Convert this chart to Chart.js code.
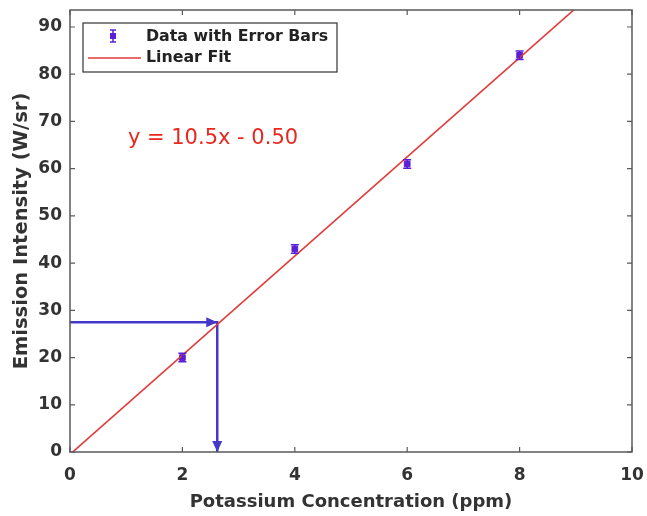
<!DOCTYPE html>
<html lang="en">
  <head>
    <meta charset="UTF-8" />
    <title>Emission Intensity vs Potassium Concentration</title>
    <script src="https://cdn.jsdelivr.net/npm/chart.js"></script>
    <style>
      html, body { margin: 0; padding: 0; background: #fff; }
      #wrap { width: 647px; height: 516px; }
    </style>
  </head>
  <body>
    <div id="wrap"><canvas id="chart" width="647" height="516"></canvas></div>
    <script>
      // data
      const concX = [2, 4, 6, 8];
      const intensityY = [20, 43, 61, 84];
      const errY = [0.9, 0.9, 0.9, 0.9];
      const fitX = [0, 10];
      const fitY = [-0.5, 104.5];
      const arrowX = [0, 2.62, 2.62];
      const arrowY = [27.5, 27.5, 0];
      const xTicks = [0, 2, 4, 6, 8, 10];
      const yTicks = [0, 10, 20, 30, 40, 50, 60, 70, 80, 90];
      const equationText = 'y = 10.5x - 0.50';

      const purple = '#5a1fd6';
      const arrowBlue = '#4338c8';
      const fitRed = '#e23a3a';
      const axisGray = '#5a5a5a';
      const textDark = '#333';
      const boldFont = '"DejaVu Sans", "Liberation Sans", sans-serif';

      const pts = (xs, ys) => xs.map((x, i) => ({ x: x, y: ys[i] }));

      // box + inward ticks, MATLAB style
      const framePlugin = {
        id: 'frame',
        afterDraw(chart) {
          const { ctx, chartArea: a, scales: { x, y } } = chart;
          ctx.save();
          ctx.strokeStyle = axisGray;
          ctx.lineWidth = 1.5;
          ctx.strokeRect(a.left, a.top, a.right - a.left, a.bottom - a.top);
          ctx.lineWidth = 1.2;
          ctx.beginPath();
          xTicks.forEach(v => {
            const px = x.getPixelForValue(v);
            ctx.moveTo(px, a.bottom); ctx.lineTo(px, a.bottom - 5);
            ctx.moveTo(px, a.top); ctx.lineTo(px, a.top + 5);
          });
          yTicks.forEach(v => {
            const py = y.getPixelForValue(v);
            ctx.moveTo(a.left, py); ctx.lineTo(a.left + 5, py);
            ctx.moveTo(a.right, py); ctx.lineTo(a.right - 5, py);
          });
          ctx.stroke();
          ctx.restore();
        }
      };

      // error bars, arrowheads, equation and legend
      const overlayPlugin = {
        id: 'overlay',
        afterDatasetsDraw(chart) {
          const { ctx, chartArea: a, scales: { x, y } } = chart;
          ctx.save();

          // error bars
          ctx.strokeStyle = purple;
          ctx.lineWidth = 1.5;
          concX.forEach((cx, i) => {
            const px = x.getPixelForValue(cx);
            const lo = y.getPixelForValue(intensityY[i] - errY[i]);
            const hi = y.getPixelForValue(intensityY[i] + errY[i]);
            ctx.beginPath();
            ctx.moveTo(px, lo); ctx.lineTo(px, hi);
            ctx.moveTo(px - 4, lo); ctx.lineTo(px + 4, lo);
            ctx.moveTo(px - 4, hi); ctx.lineTo(px + 4, hi);
            ctx.stroke();
          });

          // arrowheads
          ctx.fillStyle = arrowBlue;
          const hx = x.getPixelForValue(arrowX[1]);
          const hy = y.getPixelForValue(arrowY[1]);
          ctx.beginPath();
          ctx.moveTo(hx, hy); ctx.lineTo(hx - 11, hy - 5); ctx.lineTo(hx - 11, hy + 5);
          ctx.closePath(); ctx.fill();
          const vx = x.getPixelForValue(arrowX[2]);
          const vy = y.getPixelForValue(arrowY[2]);
          ctx.beginPath();
          ctx.moveTo(vx, vy); ctx.lineTo(vx - 5, vy - 11); ctx.lineTo(vx + 5, vy - 11);
          ctx.closePath(); ctx.fill();

          // equation
          ctx.fillStyle = '#e8281e';
          ctx.font = '21px "DejaVu Sans", "Liberation Sans", sans-serif';
          ctx.textBaseline = 'middle';
          ctx.textAlign = 'left';
          ctx.fillText(equationText, x.getPixelForValue(1.03), y.getPixelForValue(66.4));

          // legend
          const lx = a.left + 13, ly = a.top + 13, lw = 254, lh = 49;
          ctx.fillStyle = '#fff';
          ctx.fillRect(lx, ly, lw, lh);
          ctx.strokeStyle = '#333';
          ctx.lineWidth = 1.2;
          ctx.strokeRect(lx, ly, lw, lh);
          const mx = lx + 30, r1 = ly + 13, r2 = ly + 35;
          ctx.strokeStyle = purple;
          ctx.lineWidth = 1.5;
          ctx.beginPath();
          ctx.moveTo(mx, r1 - 6); ctx.lineTo(mx, r1 + 6);
          ctx.moveTo(mx - 3, r1 - 6); ctx.lineTo(mx + 3, r1 - 6);
          ctx.moveTo(mx - 3, r1 + 6); ctx.lineTo(mx + 3, r1 + 6);
          ctx.stroke();
          ctx.fillStyle = purple;
          ctx.fillRect(mx - 3, r1 - 3, 6, 6);
          ctx.strokeStyle = fitRed;
          ctx.beginPath();
          ctx.moveTo(lx + 5, r2); ctx.lineTo(lx + 58, r2);
          ctx.stroke();
          ctx.fillStyle = '#222';
          ctx.font = 'bold 15.8px ' + boldFont;
          ctx.fillText('Data with Error Bars', lx + 63, r1 + 1);
          ctx.fillText('Linear Fit', lx + 63, r2);

          ctx.restore();
        }
      };

      new Chart(document.getElementById('chart'), {
        type: 'scatter',
        data: {
          datasets: [
            {
              type: 'line',
              label: 'Linear Fit',
              data: pts(fitX, fitY),
              borderColor: fitRed,
              borderWidth: 1.6,
              pointRadius: 0,
              fill: false
            },
            {
              type: 'line',
              label: 'Arrow',
              data: pts(arrowX, arrowY),
              borderColor: arrowBlue,
              borderWidth: 2.5,
              pointRadius: 0,
              fill: false,
              tension: 0
            },
            {
              label: 'Data with Error Bars',
              data: pts(concX, intensityY),
              backgroundColor: purple,
              borderColor: purple,
              pointStyle: 'rect',
              pointRadius: 4,
              pointHoverRadius: 4
            }
          ]
        },
        options: {
          responsive: false,
          animation: false,
          layout: { padding: { top: 10, right: 15, left: 0, bottom: 0 } },
          plugins: { legend: { display: false }, tooltip: { enabled: false } },
          scales: {
            x: {
              type: 'linear',
              min: 0,
              max: 10,
              afterBuildTicks: s => { s.ticks = xTicks.map(v => ({ value: v })); },
              afterFit: s => { s.height = 64; s.paddingLeft = 0; s.paddingRight = 0; },
              grid: { display: false },
              border: { display: false },
              ticks: {
                color: textDark,
                padding: 5,
                font: { family: boldFont, size: 17, weight: 'bold' }
              },
              title: {
                display: true,
                text: 'Potassium Concentration (ppm)',
                color: textDark,
                padding: { top: 0, bottom: 3 },
                font: { family: boldFont, size: 18, weight: 'bold' }
              }
            },
            y: {
              type: 'linear',
              min: 0,
              max: 93.6,
              afterBuildTicks: s => { s.ticks = yTicks.map(v => ({ value: v })); },
              afterFit: s => { s.width = 70; s.paddingTop = 0; s.paddingBottom = 0; },
              grid: { display: false },
              border: { display: false },
              ticks: {
                color: textDark,
                padding: 0,
                font: { family: boldFont, size: 17, weight: 'bold' }
              },
              title: {
                display: true,
                text: 'Emission Intensity (W/sr)',
                color: textDark,
                padding: { top: 10, bottom: 0 },
                font: { family: boldFont, size: 19.5, weight: 'bold' }
              }
            }
          }
        },
        plugins: [framePlugin, overlayPlugin]
      });
    </script>
  </body>
</html>
